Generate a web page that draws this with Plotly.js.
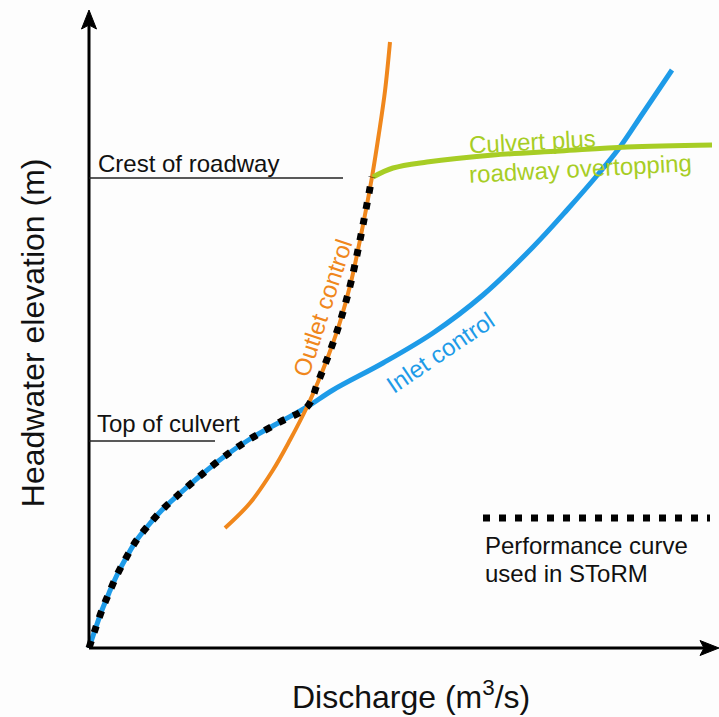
<!DOCTYPE html>
<html>
<head>
<meta charset="utf-8">
<script src="https://cdn.plot.ly/plotly-3.0.1.min.js"></script>
<style>html,body{margin:0;padding:0;background:#fdfdfd;}#chart{width:719px;height:717px;}</style>
</head>
<body>
<div id="chart"></div>
<script>
// Inlet control curve (discharge, headwater)
const inletQ = [0, 0.6, 1.3, 2.0, 2.8, 3.7, 4.7, 5.8, 7.3, 8.8, 11.1, 13.6, 16.1, 19.1, 21.8, 24.4, 29.4, 34.4, 39.4, 44.4, 47.8, 51.1, 53.1, 55.4, 58.3];
const inletH = [0, 1.8, 3.8, 5.5, 7.3, 9.0, 10.7, 12.1, 13.8, 15.2, 17.2, 19.2, 20.9, 22.6, 24.1, 25.8, 28.5, 31.5, 35.3, 40.1, 43.8, 47.6, 50.1, 53.5, 57.8];
// Outlet control curve
const outletQ = [13.6, 16.1, 18.4, 20.1, 21.8, 22.9, 24.0, 25.1, 26.2, 27.2, 28.3, 29.0, 29.6, 30.1];
const outletH = [12.0, 14.5, 17.8, 20.8, 24.1, 26.6, 29.4, 32.6, 36.6, 41.3, 47.1, 51.5, 55.7, 60.6];
// Culvert plus roadway overtopping
const overQ = [28.4, 30.4, 33.8, 40.4, 47.1, 53.8, 62.3];
const overH = [47.1, 48.0, 48.6, 49.3, 49.7, 50.1, 50.3];
// Reference levels
const crestElev = 47.0, crestEnd = 25.4;
const culvertTop = 20.7, culvertEnd = 12.6;
// Performance curve = inlet control up to the crossing, then outlet control up to the crest
const crossInlet = 14, crossOutlet = 4, crestOutlet = 10;
const perfQ = inletQ.slice(0, crossInlet + 1).concat(outletQ.slice(crossOutlet + 1, crestOutlet + 1));
const perfH = inletH.slice(0, crossInlet + 1).concat(outletH.slice(crossOutlet + 1, crestOutlet + 1));

const blue = '#1E9BE8', orange = '#F0871C', green = '#A7CD25';
const font = 'Liberation Sans, Arial, sans-serif';
const dotDash = '7px,9px';

const traces = [
  {x: inletQ, y: inletH, mode: 'lines', line: {color: blue, width: 5, shape: 'spline', smoothing: 1}, hoverinfo: 'skip'},
  {x: outletQ, y: outletH, mode: 'lines', line: {color: orange, width: 4, shape: 'spline', smoothing: 1}, hoverinfo: 'skip'},
  {x: overQ, y: overH, mode: 'lines', line: {color: green, width: 5, shape: 'spline'}, hoverinfo: 'skip'},
  {x: perfQ, y: perfH, mode: 'lines', line: {color: '#000', width: 7, shape: 'spline', smoothing: 1, dash: dotDash}, hoverinfo: 'skip'}
];

const txt = (x, y, text, color, angle, xanchor) => ({
  x: x, y: y, xref: 'x', yref: 'y', text: text, showarrow: false,
  xanchor: xanchor || 'left', yanchor: 'middle', textangle: angle || 0,
  font: {family: font, size: 24, color: color}
});

const layout = {
  width: 719, height: 717,
  margin: {l: 60, r: 0, t: 0, b: 50},
  paper_bgcolor: '#fdfdfd', plot_bgcolor: '#fdfdfd',
  showlegend: false,
  xaxis: {range: [-2.9, 63.0], showgrid: false, zeroline: false, showline: false, showticklabels: false, ticks: ''},
  yaxis: {range: [-1.9, 64.8], showgrid: false, zeroline: false, showline: false, showticklabels: false, ticks: ''},
  shapes: [
    // axes with arrowheads
    {type: 'line', xref: 'x', yref: 'y', x0: 0, x1: 0, y0: 0, y1: 62.5, line: {color: '#000', width: 3}},
    {type: 'line', xref: 'x', yref: 'y', x0: 0, x1: 61.8, y0: 0, y1: 0, line: {color: '#000', width: 3}},
    {type: 'path', xref: 'x', yref: 'y', path: 'M 0 63.8 L -0.75 61.9 L 0 62.3 L 0.75 61.9 Z', fillcolor: '#000', line: {color: '#000', width: 1}},
    {type: 'path', xref: 'x', yref: 'y', path: 'M 63.0 0 L 61.1 0.75 L 61.5 0 L 61.1 -0.75 Z', fillcolor: '#000', line: {color: '#000', width: 1}},
    // reference levels
    {type: 'line', xref: 'x', yref: 'y', x0: 0, x1: crestEnd, y0: crestElev, y1: crestElev, line: {color: '#222', width: 1.5}},
    {type: 'line', xref: 'x', yref: 'y', x0: 0, x1: culvertEnd, y0: culvertTop, y1: culvertTop, line: {color: '#222', width: 1.5}},
    // legend sample of the performance curve
    {type: 'line', xref: 'x', yref: 'y', x0: 39.4, x1: 62.1, y0: 13.0, y1: 13.0, line: {color: '#000', width: 7, dash: dotDash}}
  ],
  annotations: [
    {x: 0.5326, y: -0.042, xref: 'paper', yref: 'paper', text: 'Discharge (m<sup>3</sup>/s)', showarrow: false,
     xanchor: 'center', yanchor: 'middle', font: {family: font, size: 32, color: '#111'}},
    {x: -0.041, y: 0.502, xref: 'paper', yref: 'paper', text: 'Headwater elevation (m)', showarrow: false,
     xanchor: 'center', yanchor: 'middle', textangle: -90, font: {family: font, size: 32, color: '#111'}},
    txt(0.7, 48.5, 'Crest of roadway', '#111'),
    txt(0.6, 22.5, 'Top of culvert', '#111'),
    txt(39.4, 10.3, 'Performance curve', '#111'),
    txt(39.4, 7.5, 'used in SToRM', '#111'),
    txt(37.7, 50.7, 'Culvert plus', green, -3),
    txt(37.7, 48.0, 'roadway overtopping', green, -3),
    txt(23.3, 34.0, 'Outlet control', orange, -72, 'center'),
    txt(35.1, 29.6, 'Inlet control', blue, -34, 'center')
  ]
};

Plotly.newPlot('chart', traces, layout, {displayModeBar: false, staticPlot: true});
</script>
</body>
</html>
